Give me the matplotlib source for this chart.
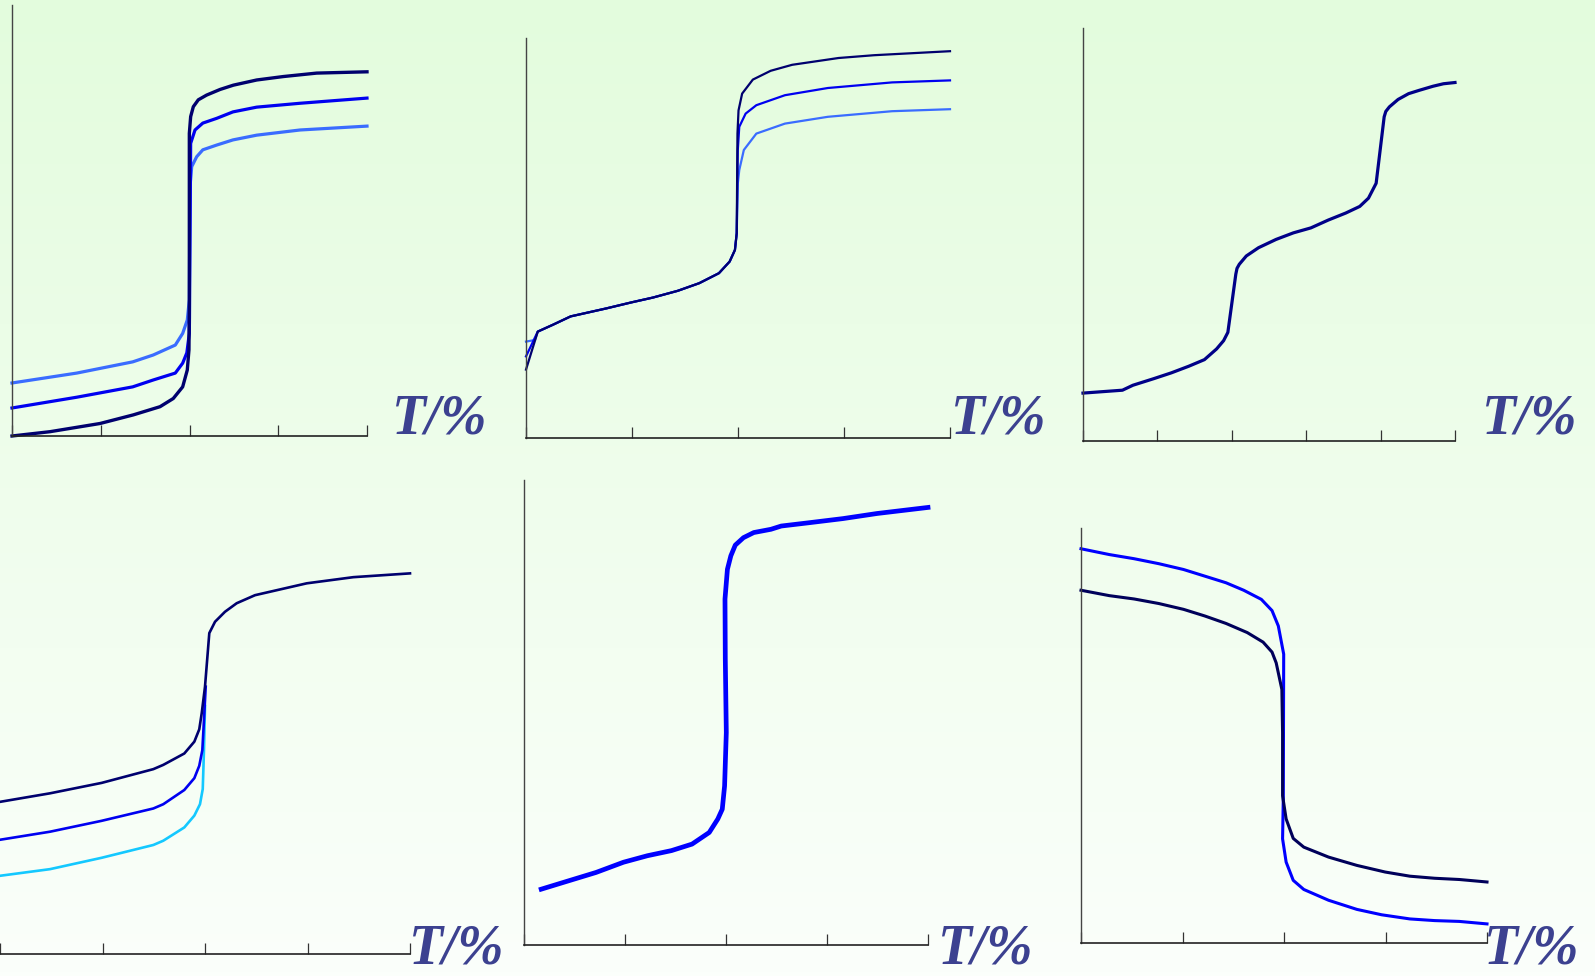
import numpy as np
import matplotlib
matplotlib.use("Agg")
import matplotlib.pyplot as plt

W, H = 1595, 976

# ---- curve data (x in tick units, y in percent of axis height) ----
# panel 1: three sharp S-curves
p1_x_dark = [0, 0.428, 0.992, 1.367, 1.668, 1.817, 1.923, 1.975, 1.994, 1.998, 1.998,
             2.013, 2.043, 2.099, 2.193, 2.344, 2.494, 2.757, 3.057, 3.433, 4.0]
p1_y_dark = [0, 1.0, 2.9, 4.9, 6.8, 8.7, 11.4, 15.3, 20.0, 31.6, 70.2,
             74.1, 76.4, 78.0, 79.1, 80.4, 81.4, 82.6, 83.4, 84.2, 84.5]
p1_x_mid = [0, 0.73, 1.36, 1.592, 1.84, 1.923, 1.97, 1.998, 2.0, 2.013, 2.062, 2.15,
            2.306, 2.49, 2.757, 3.245, 4.0]
p1_y_mid = [6.5, 9.0, 11.4, 13.0, 14.6, 16.9, 19.3, 23.8, 27.6, 67.9, 71.0, 72.6,
            73.7, 75.2, 76.3, 77.2, 78.4]
p1_x_light = [0, 0.73, 1.36, 1.592, 1.84, 1.923, 1.975, 1.998, 2.006, 2.025, 2.081,
              2.15, 2.306, 2.49, 2.757, 3.245, 4.0]
p1_y_light = [12.3, 14.6, 17.2, 18.8, 21.1, 23.8, 26.9, 31.6, 57.9, 62.5, 64.8,
              66.4, 67.5, 68.7, 69.8, 71.0, 71.9]

# panel 2: shared lower branch, split upper branch
p2_x_low = [0.111, 0.253, 0.421, 0.758, 0.994, 1.196, 1.432, 1.634, 1.82, 1.921, 1.971, 1.988]
p2_y_low = [26.6, 28.3, 30.4, 32.4, 33.9, 35.1, 36.8, 38.7, 41.2, 44.1, 47.0, 51.2]
p2_x_dark_hi = [1.995, 2.005, 2.039, 2.14, 2.308, 2.511, 2.949, 3.285, 4.0]
p2_y_dark_hi = [76.1, 81.9, 86.1, 89.6, 91.8, 93.3, 95.0, 95.7, 96.7]
p2_x_mid_hi = [1.998, 2.012, 2.072, 2.173, 2.443, 2.848, 3.454, 4.0]
p2_y_mid_hi = [72.0, 77.8, 81.1, 83.2, 85.7, 87.5, 88.9, 89.4]
p2_x_light_hi = [1.998, 2.012, 2.055, 2.173, 2.443, 2.848, 3.454, 4.0]
p2_y_light_hi = [63.6, 67.0, 72.0, 76.1, 78.6, 80.3, 81.7, 82.2]
p2_start_dark = (0, 17.1)
p2_start_mid = (0, 20.4)
p2_start_light = [(0, 24.1), (0.084, 24.5)]

# panel 3: two-step curve
p3_x = [0, 0.53, 0.671, 0.952, 1.187, 1.421, 1.632, 1.796, 1.89, 1.947, 2.054, 2.07,
        2.101, 2.195, 2.359, 2.594, 2.828, 3.063, 3.297, 3.532, 3.72, 3.837, 3.94,
        4.048, 4.07, 4.118, 4.235, 4.376, 4.517, 4.705, 4.845, 5.0]
p3_y = [11.6, 12.3, 13.5, 15.1, 16.5, 18.1, 19.7, 22.3, 24.3, 26.3, 40.4, 41.8,
        42.8, 44.8, 46.8, 48.8, 50.4, 51.6, 53.5, 55.2, 56.8, 58.8, 62.4,
        78.5, 79.8, 80.9, 82.7, 84.1, 84.9, 85.9, 86.5, 86.8]

# panel 4: three curves joining at the jump
p4_x_dark = [0, 0.488, 0.992, 1.496, 1.593, 1.798, 1.896, 1.944, 1.968, 2.0, 2.042,
             2.098, 2.195, 2.309, 2.488, 2.992, 3.447, 4.0]
p4_y_dark = [32.1, 33.9, 36.1, 39.0, 39.9, 42.3, 44.8, 47.4, 50.8, 56.4, 67.7,
             70.1, 72.2, 74.0, 75.7, 78.2, 79.5, 80.3]
p4_x_mid = [0, 0.488, 0.992, 1.496, 1.593, 1.798, 1.896, 1.944, 1.974, 1.99, 2.007]
p4_y_mid = [24.1, 25.8, 28.1, 30.7, 31.6, 34.6, 37.1, 39.7, 43.0, 49.4, 56.4]
p4_x_cyan = [0, 0.488, 0.992, 1.496, 1.593, 1.798, 1.896, 1.951, 1.978, 1.99, 2.0]
p4_y_cyan = [16.5, 17.9, 20.3, 23.0, 23.9, 26.7, 29.2, 31.6, 34.8, 43.0, 52.3]

# panel 5: single thick curve
p5_x = [0.17, 0.441, 0.713, 0.985, 1.222, 1.46, 1.664, 1.834, 1.919, 1.963, 1.986,
        2.003, 1.993, 1.99, 2.014, 2.048, 2.092, 2.173, 2.275, 2.445, 2.547, 2.818,
        3.158, 3.497, 4.0]
p5_y = [12.0, 13.8, 15.6, 17.8, 19.2, 20.3, 21.7, 24.2, 27.1, 29.2, 34.2,
        45.7, 61.5, 74.4, 80.8, 83.7, 86.0, 87.6, 88.7, 89.4, 90.1, 90.8,
        91.7, 92.8, 94.1]

# panel 6: two falling curves
p6_x_blue = [0, 0.279, 0.523, 0.767, 1.01, 1.22, 1.429, 1.603, 1.777, 1.882, 1.944,
             1.997, 1.993, 1.986, 2.021, 2.091, 2.195, 2.439, 2.718, 2.962, 3.24,
             3.484, 3.728, 4.0]
p6_y_blue = [95.0, 93.6, 92.6, 91.4, 90.0, 88.4, 86.8, 85.0, 82.8, 80.1, 76.4,
             69.6, 34.7, 25.1, 19.5, 15.1, 12.9, 10.3, 8.1, 6.8, 5.8,
             5.4, 5.2, 4.6]
p6_x_dark = [0, 0.279, 0.523, 0.767, 1.01, 1.22, 1.429, 1.638, 1.794, 1.882, 1.923,
             1.979, 1.986, 1.986, 2.021, 2.091, 2.195, 2.439, 2.718, 2.997, 3.24,
             3.484, 3.728, 4.0]
p6_y_dark = [85.0, 83.7, 82.9, 81.8, 80.4, 78.8, 77.0, 74.8, 72.5, 70.1, 67.5,
             61.1, 50.7, 35.5, 29.9, 25.2, 23.1, 20.7, 18.7, 17.1, 16.1,
             15.6, 15.3, 14.7]

axis_label = "T/%"

NAVY = "#00006e"
BLUE = "#0000f0"
LIGHT = "#3a6cff"
CYAN = "#14c8ff"
LABEL_COLOR = "#3c4190"

fig = plt.figure(figsize=(W / 100, H / 100), dpi=100)

# soft green-to-white background
bg = fig.add_axes([0, 0, 1, 1], zorder=-10)
top_c = np.array([227, 252, 221]) / 255
bot_c = np.array([251, 255, 251]) / 255
t = np.linspace(0, 1, 256)[:, None]
grad = top_c[None, :] * (1 - t) + bot_c[None, :] * t
bg.imshow(grad[:, None, :], aspect="auto", extent=[0, 1, 0, 1])
bg.set_axis_off()


def panel(l, t_, r, b, nticks, show_left=True):
    ax = fig.add_axes([l / W, 1 - b / H, (r - l) / W, (b - t_) / H])
    ax.patch.set_visible(False)
    ax.set_xlim(0, nticks)
    ax.set_ylim(0, 100)
    for s in ("top", "right"):
        ax.spines[s].set_visible(False)
    ax.spines["left"].set_visible(show_left)
    ax.spines["left"].set_color("#444444")
    ax.spines["left"].set_linewidth(1.0)
    ax.spines["bottom"].set_color("#222222")
    ax.spines["bottom"].set_linewidth(1.2)
    ax.set_xticks(range(nticks + 1))
    ax.set_xticklabels([])
    ax.set_yticks([])
    ax.tick_params(axis="x", direction="in", length=8, width=0.9, color="#333333")
    return ax


def label(x, y):
    fig.text(x / W, 1 - y / H, axis_label, family="Liberation Serif",
             weight="bold", style="italic", fontsize=40, color=LABEL_COLOR,
             ha="left", va="baseline")


# panel 1
ax1 = panel(12, 5, 367, 436, 4)
ax1.plot(p1_x_light, p1_y_light, color=LIGHT, lw=2.3, clip_on=False)
ax1.plot(p1_x_mid, p1_y_mid, color=BLUE, lw=2.3, clip_on=False)
ax1.plot(p1_x_dark, p1_y_dark, color=NAVY, lw=2.4, clip_on=False)
label(392, 434)

# panel 2
ax2 = panel(526, 38, 950, 438, 4)
ax2.plot([p[0] for p in p2_start_light] + p2_x_low + p2_x_light_hi,
         [p[1] for p in p2_start_light] + p2_y_low + p2_y_light_hi,
         color=LIGHT, lw=1.6, clip_on=False)
ax2.plot([p2_start_mid[0]] + p2_x_low + p2_x_mid_hi,
         [p2_start_mid[1]] + p2_y_low + p2_y_mid_hi,
         color=BLUE, lw=1.6, clip_on=False)
ax2.plot([p2_start_dark[0]] + p2_x_low + p2_x_dark_hi,
         [p2_start_dark[1]] + p2_y_low + p2_y_dark_hi,
         color=NAVY, lw=1.6, clip_on=False)
label(951, 434)

# panel 3
ax3 = panel(1083, 28, 1455, 441, 5)
ax3.plot(p3_x, p3_y, color="#000088", lw=2.3, clip_on=False)
label(1482, 434)

# panel 4
ax4 = panel(0, 480, 410, 954, 4, show_left=False)
ax4.plot(p4_x_cyan, p4_y_cyan, color=CYAN, lw=1.9, clip_on=False)
ax4.plot(p4_x_mid, p4_y_mid, color=BLUE, lw=1.9, clip_on=False)
ax4.plot(p4_x_dark, p4_y_dark, color=NAVY, lw=1.9, clip_on=False)
label(409, 963)

# panel 5
ax5 = panel(524, 480, 928, 945, 4)
ax5.plot(p5_x, p5_y, color="#0000ff", lw=3.4, clip_on=False)
label(938, 963)

# panel 6
ax6 = panel(1081, 528, 1487, 943, 4)
ax6.plot(p6_x_blue, p6_y_blue, color="#0000ff", lw=2.2, clip_on=False)
ax6.plot(p6_x_dark, p6_y_dark, color="#00005a", lw=2.2, clip_on=False)
label(1484, 963)

fig.savefig("out.png", dpi=100)
